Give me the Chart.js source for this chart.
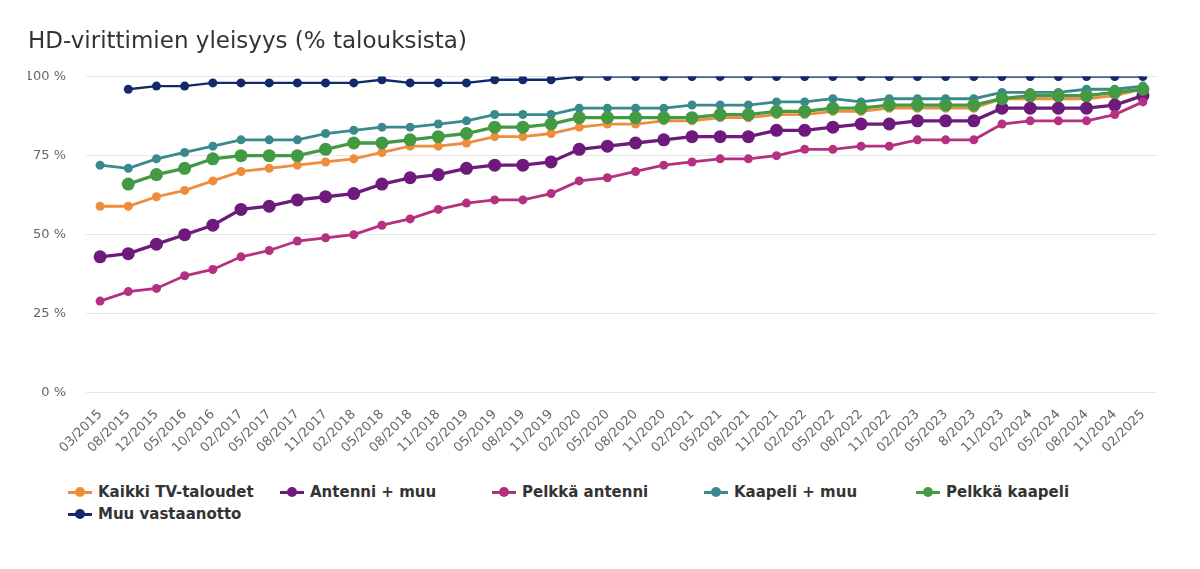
<!DOCTYPE html>
<html>
<head>
<meta charset="utf-8">
<script src="https://cdn.jsdelivr.net/npm/chart.js@4/dist/chart.umd.min.js"></script>
<style>
    body { margin: 0; background: #fff; }
    #wrap { position: relative; width: 1200px; height: 569px; }
    #box { position: absolute; left: 0; top: 0; width: 1200px; height: 462px; }
    #legend { position: absolute; left: 68px; top: 481px; width: 1100px; }
    .item { display: inline-flex; align-items: center; width: 212px; height: 22px; font-family: "DejaVu Sans", sans-serif; font-weight: bold; font-size: 15px; color: #333; }
    .mark { position: relative; width: 24px; height: 12px; margin-right: 6px; }
    .mark .ln { position: absolute; left: 0; top: 4.5px; width: 24px; height: 3px; }
    .mark .dot { position: absolute; left: 7px; top: 1px; width: 10px; height: 10px; border-radius: 50%; }
</style>
</head>
<body>
<div id="wrap">
    <div id="box"><canvas id="myChart"></canvas></div>
    <div id="legend"></div>
</div>
<script>
const labels = ['03/2015', '08/2015', '12/2015', '05/2016', '10/2016', '02/2017', '05/2017', '08/2017', '11/2017', '02/2018',
    '05/2018', '08/2018', '11/2018', '02/2019', '05/2019', '08/2019', '11/2019', '02/2020', '05/2020', '08/2020',
    '11/2020', '02/2021', '05/2021', '08/2021', '11/2021', '02/2022', '05/2022', '08/2022', '11/2022', '02/2023',
    '05/2023', '8/2023', '11/2023', '02/2024', '05/2024', '08/2024', '11/2024', '02/2025'];

const kaikki = [59, 59, 62, 64, 67, 70, 71, 72, 73, 74, 76, 78, 78, 79, 81, 81, 82, 84, 85, 85,
    86, 86, 87, 87, 88, 88, 89, 89, 90, 90, 90, 90, 93, 93, 93, 93, 94, 96];
const antenniMuu = [43, 44, 47, 50, 53, 58, 59, 61, 62, 63, 66, 68, 69, 71, 72, 72, 73, 77, 78, 79,
    80, 81, 81, 81, 83, 83, 84, 85, 85, 86, 86, 86, 90, 90, 90, 90, 91, 94];
const pelkkaAntenni = [29, 32, 33, 37, 39, 43, 45, 48, 49, 50, 53, 55, 58, 60, 61, 61, 63, 67, 68, 70,
    72, 73, 74, 74, 75, 77, 77, 78, 78, 80, 80, 80, 85, 86, 86, 86, 88, 92];
const kaapeliMuu = [72, 71, 74, 76, 78, 80, 80, 80, 82, 83, 84, 84, 85, 86, 88, 88, 88, 90, 90, 90,
    90, 91, 91, 91, 92, 92, 93, 92, 93, 93, 93, 93, 95, 95, 95, 96, 96, 97];
const pelkkaKaapeli = [null, 66, 69, 71, 74, 75, 75, 75, 77, 79, 79, 80, 81, 82, 84, 84, 85, 87, 87, 87,
    87, 87, 88, 88, 89, 89, 90, 90, 91, 91, 91, 91, 93, 94, 94, 94, 95, 96];
const muuVastaanotto = [null, 96, 97, 97, 98, 98, 98, 98, 98, 98, 99, 98, 98, 98, 99, 99, 99, 100, 100, 100,
    100, 100, 100, 100, 100, 100, 100, 100, 100, 100, 100, 100, 100, 100, 100, 100, 100, 100];

const yTicks = [0, 25, 50, 75, 100];

const series = [
    { label: 'Kaikki TV-taloudet', data: kaikki, color: '#ee8d3c', width: 2.8, radius: 4.5, order: 5 },
    { label: 'Antenni + muu', data: antenniMuu, color: '#6e1a7d', width: 3.3, radius: 6.5, order: 4 },
    { label: 'Pelkkä antenni', data: pelkkaAntenni, color: '#b5307f', width: 2.8, radius: 4.5, order: 3 },
    { label: 'Kaapeli + muu', data: kaapeliMuu, color: '#3a8a8d', width: 2.8, radius: 4.5, order: 2 },
    { label: 'Pelkkä kaapeli', data: pelkkaKaapeli, color: '#449a43', width: 3.3, radius: 6.5, order: 1 },
    { label: 'Muu vastaanotto', data: muuVastaanotto, color: '#13296b', width: 2.3, radius: 4.5, order: 0 }
];

const data = {
    labels: labels,
    datasets: series.map((s) => ({
        label: s.label,
        data: s.data,
        borderColor: s.color,
        backgroundColor: s.color,
        borderWidth: s.width,
        pointRadius: s.radius,
        pointBorderWidth: 0,
        pointBackgroundColor: s.color,
        order: s.order,
        tension: 0
    }))
};

const config = {
    type: 'line',
    data: data,
    options: {
        responsive: true,
        maintainAspectRatio: false,
        animation: false,
        layout: { padding: { left: 28, right: 43, top: 0, bottom: 0 } },
        plugins: {
            legend: { display: false },
            tooltip: { enabled: false },
            title: {
                display: true,
                text: 'HD-virittimien yleisyys (% talouksista)',
                align: 'start',
                color: '#333',
                font: { family: 'DejaVu Sans', size: 23, weight: 'normal' },
                padding: { top: 28, bottom: 21 }
            }
        },
        scales: {
            x: {
                offset: true,
                grid: { display: false },
                border: { display: false },
                ticks: {
                    autoSkip: false,
                    minRotation: 45,
                    maxRotation: 45,
                    color: '#666',
                    font: { family: 'DejaVu Sans', size: 13 },
                    padding: 6
                }
            },
            y: {
                min: 0,
                max: 100,
                afterBuildTicks: (scale) => {
                    scale.ticks = yTicks.map((v) => ({ value: v }));
                },
                afterFit: (scale) => {
                    scale.width = 58;
                },
                grid: { color: '#e6e6e6', drawTicks: false },
                border: { display: false },
                ticks: {
                    color: '#666',
                    padding: 20,
                    font: { family: 'DejaVu Sans', size: 13 },
                    callback: (v) => v + ' %'
                }
            }
        }
    }
};

const graph = new Chart(document.getElementById('myChart'), config);

// Legend in fixed columns
const legend = document.getElementById('legend');
series.forEach((s) => {
    const item = document.createElement('div');
    item.className = 'item';
    item.innerHTML = '<span class="mark"><span class="ln" style="background:' + s.color + '"></span>' +
        '<span class="dot" style="background:' + s.color + '"></span></span>' + s.label;
    legend.appendChild(item);
});
</script>
</body>
</html>
